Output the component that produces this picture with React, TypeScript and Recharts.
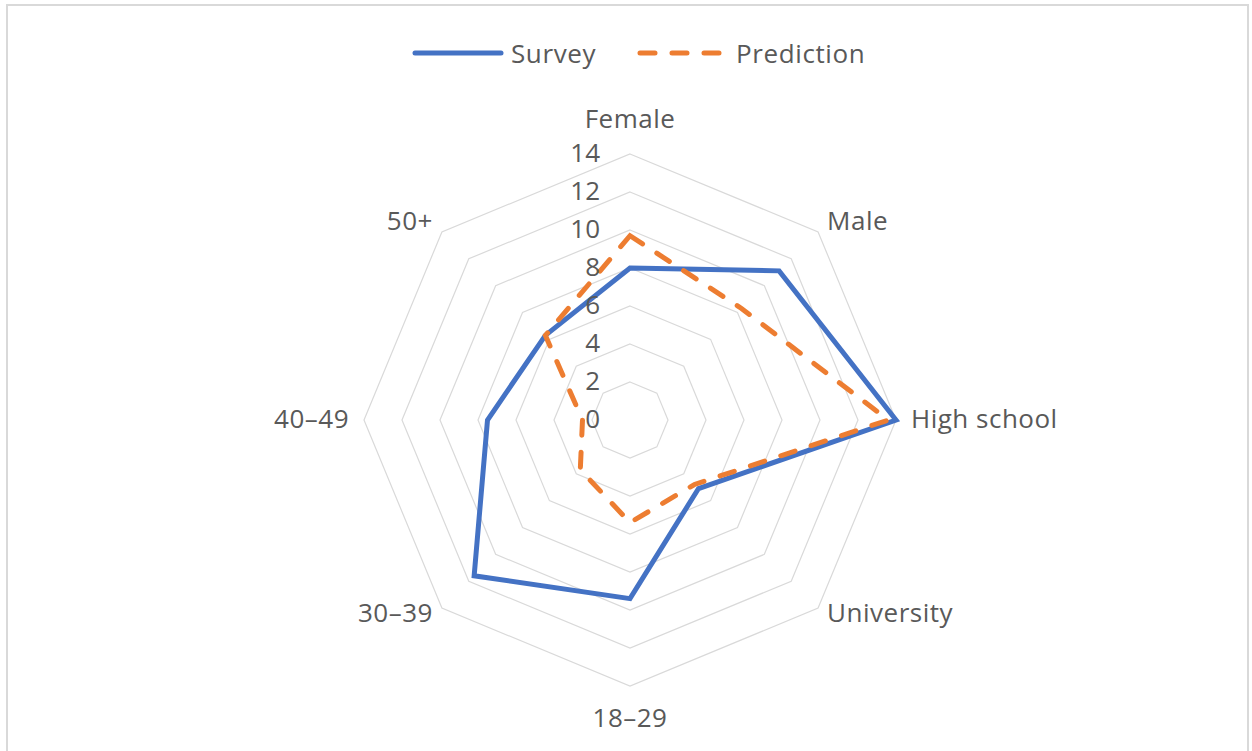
import { RadarChart, Radar, PolarGrid, PolarAngleAxis, PolarRadiusAxis } from 'recharts';

const categories = ['Female', 'Male', 'High school', 'University', '18–29', '30–39', '40–49', '50+'];
const survey = [8, 11.1, 14, 5.1, 9.4, 11.6, 7.5, 6.3];
const prediction = [9.7, 8.3, 13.6, 4.8, 5.4, 3.7, 2.5, 6.3];
const radiusTicks = [0, 2, 4, 6, 8, 10, 12, 14];

const SERIES = [
  { key: 'survey', name: 'Survey', color: '#4472C4', dash: undefined as string | undefined },
  { key: 'prediction', name: 'Prediction', color: '#ED7D31', dash: '15 17' },
];

const chartData = categories.map((c, i) => ({ category: c, survey: survey[i], prediction: prediction[i] }));

const FONT = '"Open Sans", sans-serif';
const TEXT = '#595959';
const CX = 630;
const CY = 420;
const R = 266;

// category labels sit just outside the outer ring, anchored by side
const AngleTick = ({ payload }: any) => {
  const angle = (payload.coordinate * Math.PI) / 180;
  const cos = Math.cos(angle);
  const sin = Math.sin(angle);
  const vx = CX + R * cos;
  const vy = CY - R * sin;
  let x = vx;
  let y = vy;
  let anchor: 'start' | 'middle' | 'end' = 'middle';
  if (Math.abs(cos) < 0.01) {
    y = vy + (sin > 0 ? -36 : 31);
  } else {
    anchor = cos > 0 ? 'start' : 'end';
    const horiz = Math.abs(sin) < 0.01;
    x = vx + Math.sign(cos) * (horiz ? 15 : 9);
    y = vy + (horiz ? -2 : sin > 0 ? -12 : 4);
  }
  return (
    <text x={x} y={y} textAnchor={anchor} dominantBaseline="central" fill={TEXT} fontSize={26} fontFamily={FONT} letterSpacing={0.5}>
      {payload.value}
    </text>
  );
};

const RadiusTick = ({ x, y, payload }: any) => (
  <text x={x - 30} y={y - 2} textAnchor="end" dominantBaseline="central" fill={TEXT} fontSize={26} fontFamily={FONT}>
    {payload.value}
  </text>
);

function LegendRow() {
  return (
    <div style={{ position: 'absolute', left: 411, top: 34, display: 'flex', alignItems: 'center', gap: 40, fontFamily: FONT, fontSize: 26, color: TEXT, letterSpacing: 0.6 }}>
      {SERIES.map((s) => (
        <div key={s.key} style={{ display: 'flex', alignItems: 'center' }}>
          <svg width={94} height={12} style={{ marginRight: 6 }}>
            <line x1={4} y1={6} x2={90} y2={6} stroke={s.color} strokeWidth={5} strokeLinecap="round" strokeDasharray={s.dash} />
          </svg>
          <span style={{ lineHeight: '38px' }}>{s.name}</span>
        </div>
      ))}
    </div>
  );
}

export default function App() {
  return (
    <div style={{ position: 'absolute', left: 0, top: 0, width: 1252, height: 751, overflow: 'hidden', background: '#fff' }}>
      <div style={{ position: 'absolute', left: 6, top: 4, width: 1243, height: 780, border: '2px solid #d9d9d9', boxSizing: 'border-box' }} />
      <LegendRow />
      <div style={{ position: 'absolute', left: 0, top: 0 }}>
        <RadarChart width={1252} height={751} data={chartData} cx={CX} cy={CY} outerRadius={R} margin={{ top: 0, right: 0, bottom: 0, left: 0 }}>
          <PolarGrid gridType="polygon" radialLines={false} stroke="#d9d9d9" strokeWidth={1.2} />
          <PolarAngleAxis dataKey="category" tick={<AngleTick />} tickLine={false} axisLine={false} />
          <PolarRadiusAxis angle={90} domain={[0, 14]} ticks={radiusTicks} tickCount={8} axisLine={false} tick={<RadiusTick />} />
          {SERIES.map((s) => (
            <Radar
              key={s.key}
              name={s.name}
              dataKey={s.key}
              stroke={s.color}
              strokeWidth={5}
              strokeDasharray={s.dash}
              strokeLinecap="round"
              strokeLinejoin="miter"
              fill="none"
              fillOpacity={0}
              dot={false}
              isAnimationActive={false}
            />
          ))}
        </RadarChart>
      </div>
    </div>
  );
}
